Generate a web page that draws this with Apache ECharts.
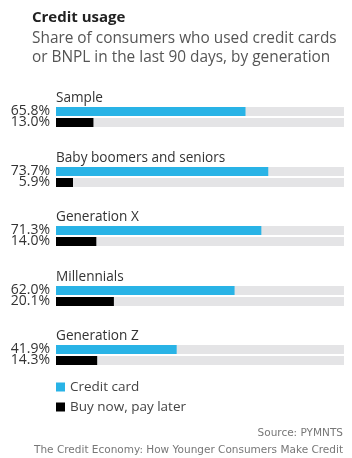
<!DOCTYPE html>
<html>
<head>
<meta charset="utf-8">
<script src="https://cdn.jsdelivr.net/npm/echarts@6/dist/echarts.min.js"></script>
<style>
    html, body { margin: 0; padding: 0; background: #fff; }
    #chart { width: 352px; height: 458px; }
</style>
</head>
<body>
<div id="chart"></div>
<script>
// 各年龄段
var groups = ['Sample', 'Baby boomers and seniors', 'Generation X', 'Millennials', 'Generation Z'];
var creditCard = [65.8, 73.7, 71.3, 62.0, 41.9];
var bnpl = [13.0, 5.9, 14.0, 20.1, 14.3];
var seriesNames = ['Credit card', 'Buy now, pay later'];
var colors = ['#29b3e6', '#000000'];

var font = '"Open Sans", sans-serif';
var grids = [], xAxes = [], yAxes = [], series = [], titles = [];

titles.push({
    text: 'Credit usage',
    subtext: 'Share of consumers who used credit cards\nor BNPL in the last 90 days, by generation',
    left: 27, top: 5, itemGap: 4,
    textStyle: { fontFamily: font, fontSize: 15, fontWeight: 'bold', color: '#222' },
    subtextStyle: { fontFamily: font, fontSize: 15.4, color: '#555', lineHeight: 19 }
});

for (var i = 0; i < groups.length; i++) {
    var gTop = Math.round(106 + 59.6 * i);   // 注意别用 top，会撞到 window.top
    grids.push({ left: 56, right: 8, top: gTop, height: 22 });
    xAxes.push({ gridIndex: i, type: 'value', min: 0, max: 100, show: false });
    yAxes.push({ gridIndex: i, type: 'category', inverse: true, data: seriesNames, show: false });
    titles.push({
        text: groups[i], left: 51, top: gTop - 20,
        textStyle: { fontFamily: font, fontSize: 13.6, fontWeight: 'normal', color: '#333' }
    });
    var vals = [creditCard[i], bnpl[i]];
    for (var j = 0; j < 2; j++) {
        var d = ['-', '-'];
        d[j] = vals[j];
        series.push({
            name: seriesNames[j], type: 'bar',
            xAxisIndex: i, yAxisIndex: i,
            data: d, barWidth: 9, barGap: '-100%',
            itemStyle: { color: colors[j] },
            showBackground: true,
            backgroundStyle: { color: '#e4e4e6' },
            label: {
                show: true, position: 'left', distance: 6,
                fontFamily: font, fontSize: 14, color: '#333',
                formatter: function (p) { return Number(p.value).toFixed(1) + '%'; }
            },
            silent: true
        });
    }
}

var chart = echarts.init(document.getElementById('chart'));
var option = {
    animation: false,
    title: titles,
    grid: grids,
    xAxis: xAxes,
    yAxis: yAxes,
    legend: {
        data: seriesNames, orient: 'vertical', left: 51, top: 375,
        itemWidth: 9, itemHeight: 9, itemGap: 6, icon: 'rect',
        textStyle: { fontFamily: font, fontSize: 13.5, color: '#444' }
    },
    graphic: [
        { type: 'text', right: 9, top: 428, style: { text: 'Source: PYMNTS', font: '10.5px "DejaVu Sans"', fill: '#777' } },
        { type: 'text', right: 9, top: 445, style: { text: 'The Credit Economy: How Younger Consumers Make Credit', font: '10.5px "DejaVu Sans"', fill: '#777' } }
    ],
    series: series
};
chart.setOption(option);
</script>
</body>
</html>
